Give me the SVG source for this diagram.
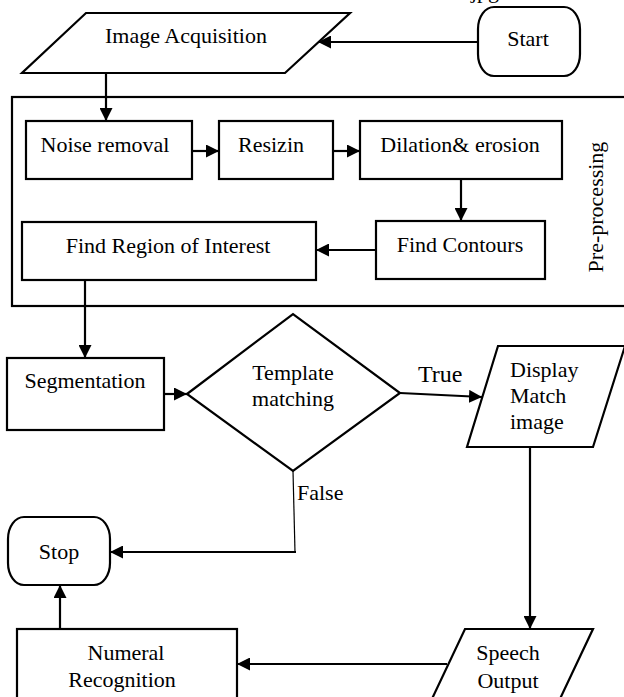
<svg xmlns="http://www.w3.org/2000/svg" width="624" height="697" viewBox="0 0 624 697" font-family="'Liberation Serif', 'Times New Roman', serif">
<style>
.s{fill:#fff;stroke:#000;stroke-width:2.2}
.c{fill:none;stroke:#000;stroke-width:2.2}
text{font-family:'Liberation Serif', 'Times New Roman', serif;font-size:22px;fill:#000}
.m{text-anchor:middle}
</style>
<defs>
<marker id="ah" viewBox="0 0 12 12" refX="12" refY="6" markerWidth="13" markerHeight="13" markerUnits="userSpaceOnUse" orient="auto">
<path d="M0,0 L12,6 L0,12 z" fill="#000"/>
</marker>
</defs>
<rect width="624" height="697" fill="#fff"/>
<text x="471" y="-2">jpg</text>
<g id="preprocessing">
<rect class="s" x="12" y="97" width="620" height="209"/>
<text class="m" transform="translate(603,207) rotate(-90)">Pre-processing</text>
</g>
<g id="image-acquisition">
<polygon class="s" points="86,13 350,13 285,73 22,73"/>
<text class="m" x="186" y="43">Image Acquisition</text>
</g>
<g id="start">
<rect class="s" x="478" y="7" width="102" height="69" rx="16" ry="22"/>
<text class="m" x="528" y="46">Start</text>
</g>
<g id="noise-removal">
<rect class="s" x="26" y="121" width="166" height="58"/>
<text class="m" x="105" y="152">Noise removal</text>
</g>
<g id="resizin">
<rect class="s" x="219" y="121" width="114" height="58"/>
<text class="m" x="271" y="152">Resizin</text>
</g>
<g id="dilation-erosion">
<rect class="s" x="360" y="121" width="202" height="58"/>
<text class="m" x="460" y="152">Dilation&amp; erosion</text>
</g>
<g id="find-contours">
<rect class="s" x="376" y="221" width="169" height="58"/>
<text class="m" x="460" y="252">Find Contours</text>
</g>
<g id="find-roi">
<rect class="s" x="22" y="222" width="294" height="58"/>
<text class="m" x="168" y="253">Find Region of Interest</text>
</g>
<g id="segmentation">
<rect class="s" x="7" y="358" width="157" height="72"/>
<text class="m" x="85" y="388">Segmentation</text>
</g>
<g id="template-matching">
<polygon class="s" points="187,394 293,314 400,393 293,471"/>
<text class="m" x="293" y="380">Template</text>
<text class="m" x="293" y="406">matching</text>
</g>
<g id="display-match">
<polygon class="s" points="498,346 625,346 593,447 467,447"/>
<text x="510" y="377">Display</text>
<text x="510" y="403">Match</text>
<text x="510" y="429">image</text>
</g>
<g id="stop">
<rect class="s" x="8" y="517" width="102" height="68" rx="16" ry="22"/>
<text class="m" x="59" y="559">Stop</text>
</g>
<g id="numeral-recognition">
<rect class="s" x="17" y="629" width="220" height="90"/>
<text class="m" x="126" y="660">Numeral</text>
<text class="m" x="122" y="687">Recognition</text>
</g>
<g id="speech-output">
<polygon class="s" points="465,629 593,629 550,720 422,720"/>
<text class="m" x="508" y="660">Speech</text>
<text class="m" x="508" y="688">Output</text>
</g>
<g id="connectors">
<line class="c" x1="478" y1="42" x2="318" y2="42" marker-end="url(#ah)"/>
<line class="c" x1="106" y1="73" x2="106" y2="121" marker-end="url(#ah)"/>
<line class="c" x1="192" y1="151" x2="219" y2="151" marker-end="url(#ah)"/>
<line class="c" x1="333" y1="151" x2="360" y2="151" marker-end="url(#ah)"/>
<line class="c" x1="461" y1="179" x2="461" y2="221" marker-end="url(#ah)"/>
<line class="c" x1="376" y1="250" x2="316" y2="250" marker-end="url(#ah)"/>
<line class="c" x1="85" y1="280" x2="85" y2="358" marker-end="url(#ah)"/>
<line class="c" x1="164" y1="394" x2="187" y2="394" marker-end="url(#ah)"/>
<line class="c" x1="400" y1="393" x2="482" y2="397" marker-end="url(#ah)"/>
<line fill="none" stroke="#000" stroke-width="1.2" x1="293" y1="471" x2="295" y2="552"/>
<line class="c" x1="296" y1="552" x2="110" y2="552" marker-end="url(#ah)"/>
<line class="c" x1="530" y1="447" x2="530" y2="629" marker-end="url(#ah)"/>
<line class="c" x1="447" y1="664" x2="237" y2="664" marker-end="url(#ah)"/>
<line class="c" x1="60" y1="629" x2="60" y2="585" marker-end="url(#ah)"/>
<text x="418" y="382" style="font-size:24px">True</text>
<text x="297" y="500">False</text>
</g>
</svg>
